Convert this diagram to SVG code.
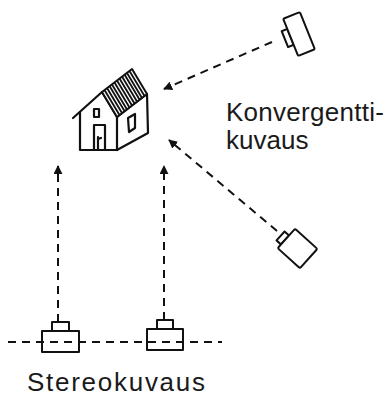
<svg xmlns="http://www.w3.org/2000/svg" width="392" height="396" viewBox="0 0 392 396">
  <defs>
    <style>
      .ln { fill: none; stroke: #111; stroke-width: 2.2; stroke-linejoin: round; stroke-linecap: round; }
      .box { fill: #fff; stroke: #111; stroke-width: 2; stroke-linejoin: round; }
      .dash { fill: none; stroke: #111; stroke-width: 2; stroke-dasharray: 8 6; }
      .hatch { stroke: #111; stroke-width: 1.8; }
      .lbl { font-family: "Liberation Sans", Arial, sans-serif; font-size: 26px; fill: #1a1a1a; }
    </style>
    <marker id="arrow" viewBox="0 0 10 10" refX="9" refY="5" markerWidth="9" markerHeight="9" markerUnits="userSpaceOnUse" orient="auto">
      <path d="M0,0 L10,5 L0,10 Z" fill="#111"/>
    </marker>
  </defs>

  <rect width="392" height="396" fill="#fff"/>

  <!-- house -->
  <g id="house">
    <!-- right side wall -->
    <path class="ln" d="M117,117 L147,94 L148,133 L117,150"/>
    <!-- front wall with gable -->
    <path class="ln" d="M73,118 L102,92 L117,117 L117,150 L80,150 L80,112"/>
    <!-- roof -->
    <path class="box" d="M102,92 L132,69 L147,94 L117,117 Z" stroke-width="2.2"/>
    <g class="hatch">
      <line x1="104.5" y1="90" x2="119.5" y2="115"/>
      <line x1="107" y1="88" x2="122" y2="113"/>
      <line x1="109.5" y1="86" x2="124.5" y2="111"/>
      <line x1="112" y1="84.5" x2="127" y2="109.5"/>
      <line x1="114.5" y1="82.5" x2="129.5" y2="107.5"/>
      <line x1="117" y1="80.5" x2="132" y2="105.5"/>
      <line x1="119.5" y1="78.5" x2="134.5" y2="103.5"/>
      <line x1="122" y1="76.5" x2="137" y2="101.5"/>
      <line x1="124.5" y1="74.5" x2="139.5" y2="99.5"/>
      <line x1="127" y1="73" x2="142" y2="98"/>
      <line x1="129.5" y1="71" x2="144.5" y2="96"/>
    </g>
    <!-- front window -->
    <rect class="ln" x="94" y="109" width="5" height="8"/>
    <!-- door -->
    <path class="ln" d="M94,150 L94,125 L105,125 L105,150"/>
    <path class="ln" d="M98,150 L98,137 M98,139 L101,138"/>
    <!-- side window -->
    <path class="ln" d="M128,118 L135,114 L135,128 L129,132 Z"/>
  </g>

  <!-- converging camera, top right -->
  <g id="camera-top" transform="translate(299,34) rotate(-22)">
    <rect class="box" x="-15" y="-9" width="6" height="17"/>
    <rect class="box" x="-9" y="-20" width="18" height="40" rx="1.5"/>
  </g>

  <!-- converging camera, lower right -->
  <g id="camera-right" transform="translate(297.5,248.5) rotate(42)">
    <rect class="box" x="-21" y="-4" width="6" height="12"/>
    <rect class="box" x="-15" y="-13" width="30" height="26" rx="1.5"/>
  </g>

  <!-- stereo cameras -->
  <g id="camera-stereo-left">
    <rect class="box" x="52" y="322" width="17" height="9"/>
    <rect class="box" x="42" y="331" width="37" height="21"/>
  </g>
  <g id="camera-stereo-right">
    <rect class="box" x="157" y="320" width="16" height="9"/>
    <rect class="box" x="147" y="329" width="36" height="21"/>
  </g>

  <!-- connectors -->
  <g id="connectors">
    <line class="dash" x1="272" y1="42" x2="164" y2="89" marker-end="url(#arrow)"/>
    <line class="dash" x1="277" y1="231" x2="169" y2="140" marker-end="url(#arrow)"/>
    <line class="dash" x1="58" y1="322" x2="58" y2="166" marker-end="url(#arrow)"/>
    <line class="dash" x1="164" y1="320" x2="164" y2="166" marker-end="url(#arrow)"/>
    <line class="dash" x1="8" y1="342" x2="222" y2="342" stroke-dasharray="7 5"/>
  </g>

  <!-- labels -->
  <g id="labels">
    <text class="lbl" x="226" y="121" textLength="158">Konvergentti-</text>
    <text class="lbl" x="226" y="149">kuvaus</text>
    <text class="lbl" x="27" y="391" font-size="30" textLength="178">Stereokuvaus</text>
  </g>
</svg>
